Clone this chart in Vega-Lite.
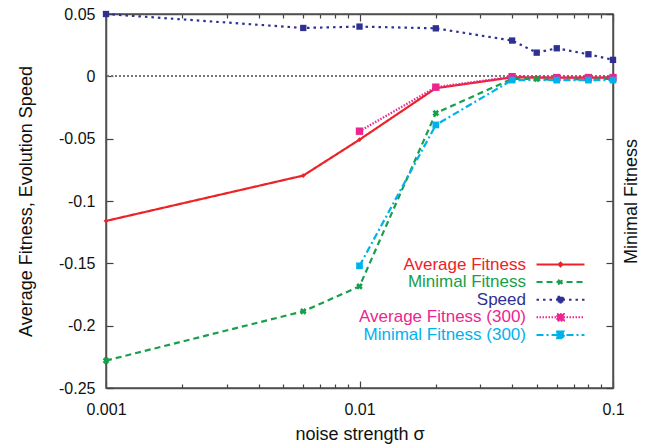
{
  "$schema": "https://vega.github.io/schema/vega-lite/v6.json",
  "autosize": "none",
  "width": 507,
  "height": 374,
  "padding": {"left": 106, "top": 14, "right": 34, "bottom": 60},
  "data": {"values": [
    {"s": "Average Fitness", "x": 0.001, "y": -0.116},
    {"s": "Average Fitness", "x": 0.006, "y": -0.0796},
    {"s": "Average Fitness", "x": 0.01, "y": -0.0508},
    {"s": "Average Fitness", "x": 0.02, "y": -0.0095},
    {"s": "Average Fitness", "x": 0.04, "y": -0.0008},
    {"s": "Average Fitness", "x": 0.05, "y": -0.001},
    {"s": "Average Fitness", "x": 0.06, "y": -0.001},
    {"s": "Average Fitness", "x": 0.08, "y": -0.001},
    {"s": "Average Fitness", "x": 0.1, "y": -0.001},
    {"s": "Minimal Fitness", "x": 0.001, "y": -0.228},
    {"s": "Minimal Fitness", "x": 0.006, "y": -0.1885},
    {"s": "Minimal Fitness", "x": 0.01, "y": -0.1685},
    {"s": "Minimal Fitness", "x": 0.02, "y": -0.0295},
    {"s": "Minimal Fitness", "x": 0.04, "y": -0.002},
    {"s": "Minimal Fitness", "x": 0.05, "y": -0.002},
    {"s": "Minimal Fitness", "x": 0.06, "y": -0.003},
    {"s": "Minimal Fitness", "x": 0.08, "y": -0.002},
    {"s": "Minimal Fitness", "x": 0.1, "y": -0.002},
    {"s": "Speed", "x": 0.001, "y": 0.05},
    {"s": "Speed", "x": 0.006, "y": 0.0388},
    {"s": "Speed", "x": 0.01, "y": 0.0399},
    {"s": "Speed", "x": 0.02, "y": 0.0385},
    {"s": "Speed", "x": 0.04, "y": 0.0287},
    {"s": "Speed", "x": 0.05, "y": 0.019},
    {"s": "Speed", "x": 0.06, "y": 0.0225},
    {"s": "Speed", "x": 0.08, "y": 0.0177},
    {"s": "Speed", "x": 0.1, "y": 0.0132},
    {"s": "Average Fitness (300)", "x": 0.01, "y": -0.044},
    {"s": "Average Fitness (300)", "x": 0.02, "y": -0.0087},
    {"s": "Average Fitness (300)", "x": 0.04, "y": -0.0003},
    {"s": "Average Fitness (300)", "x": 0.06, "y": -0.001},
    {"s": "Average Fitness (300)", "x": 0.08, "y": -0.001},
    {"s": "Average Fitness (300)", "x": 0.1, "y": -0.001},
    {"s": "Minimal Fitness (300)", "x": 0.01, "y": -0.152},
    {"s": "Minimal Fitness (300)", "x": 0.02, "y": -0.039},
    {"s": "Minimal Fitness (300)", "x": 0.04, "y": -0.003},
    {"s": "Minimal Fitness (300)", "x": 0.06, "y": -0.003},
    {"s": "Minimal Fitness (300)", "x": 0.08, "y": -0.003},
    {"s": "Minimal Fitness (300)", "x": 0.1, "y": -0.003}
  ]},
  "layer": [
    {
      "mark": {"type": "rule", "color": "#777777", "strokeWidth": 1, "strokeDash": [1.5, 2.5]},
      "encoding": {"y": {"datum": 0, "type": "quantitative", "axis": null, "scale": {"domain": [-0.25, 0.05], "nice": false, "zero": false}}}
    },
    {
      "mark": {"type": "line", "strokeWidth": 2.2},
      "encoding": {
        "x": {"field": "x", "type": "quantitative", "scale": {"type": "log", "domain": [0.001, 0.1], "nice": false},
          "axis": {"orient": "bottom", "title": "noise strength σ", "values": [0.001,0.002,0.003,0.004,0.005,0.006,0.007,0.008,0.009,0.01,0.02,0.03,0.04,0.05,0.06,0.07,0.08,0.09,0.1],
            "labelExpr": "datum.value==0.001?'0.001':datum.value==0.01?'0.01':datum.value==0.1?'0.1':''",
            "tickSize": {"condition": {"test": "datum.value==0.001||datum.value==0.01||datum.value==0.1", "value": -7}, "value": -4},
            "labelPadding": 20, "titlePadding": 5, "labelOverlap": false, "labelFlush": false}},
        "y": {"field": "y", "type": "quantitative", "scale": {"domain": [-0.25, 0.05], "nice": false, "zero": false},
          "axis": {"orient": "left", "title": "Average Fitness, Evolution Speed", "values": [-0.25,-0.2,-0.15,-0.1,-0.05,0,0.05],
            "labelExpr": "toString(datum.value)", "tickSize": -7, "labelPadding": 18, "titlePadding": 23, "labelOverlap": false}},
        "color": {"field": "s", "type": "nominal", "title": null,
          "scale": {"domain": ["Average Fitness", "Minimal Fitness", "Speed", "Average Fitness (300)", "Minimal Fitness (300)"],
                    "range": ["#ec2227", "#17a04a", "#2e3192", "#ec268f", "#00b2ec"]},
          "legend": {"orient": "none", "legendX": 446, "legendY": 242, "padding": 0, "symbolSize": 92, "symbolStrokeWidth": 2,
            "rowPadding": -0.4, "labelAlign": "right", "labelOffset": -43, "labelFontSize": 17, "labelFont": "Liberation Sans",
            "labelLimit": 300,
            "encode": {
              "labels": {"update": {"fill": {"scale": "color", "field": "value"}}},
              "symbols": {"update": {
                "shape": {"signal": "datum.value=='Average Fitness' ? 'M-5,0H5M-0.4,0L0,-0.4L0.4,0L0,0.4Z' : datum.value=='Minimal Fitness' ? 'M-5,0H5M-0.5,-0.5L0.5,0.5M-0.5,0.5L0.5,-0.5' : datum.value=='Speed' ? 'M-5,0H5M-0.6,-0.6H0.6V0.6H-0.6Z' : 'M-5,0H5M-0.7,-0.7H0.7V0.7H-0.7Z'"},
                "fill": {"scale": "color", "field": "value"}, "stroke": {"scale": "color", "field": "value"}, "strokeWidth": {"value": 2}, "opacity": {"value": 1}}}
            }}},
        "strokeDash": {"field": "s", "type": "nominal", "title": null,
          "scale": {"domain": ["Average Fitness", "Minimal Fitness", "Speed", "Average Fitness (300)", "Minimal Fitness (300)"],
                    "range": [[1, 0], [6, 4], [2.5, 4], [1.5, 1.5], [7, 3, 2, 3]]}}
      }
    },
    {
      "transform": [{"filter": "datum.s == 'Average Fitness'"}],
      "mark": {"type": "point", "filled": true, "shape": "diamond", "size": 22, "color": "#ec2227", "opacity": 1},
      "encoding": {"x": {"field": "x", "type": "quantitative", "axis": null}, "y": {"field": "y", "type": "quantitative", "axis": null}}
    },
    {
      "transform": [{"filter": "datum.s == 'Minimal Fitness'"}],
      "mark": {"type": "point", "filled": true, "shape": "cross", "angle": 45, "size": 45, "color": "#17a04a", "opacity": 1},
      "encoding": {"x": {"field": "x", "type": "quantitative", "axis": null}, "y": {"field": "y", "type": "quantitative", "axis": null}}
    },
    {
      "transform": [{"filter": "datum.s == 'Speed'"}],
      "mark": {"type": "point", "filled": true, "shape": "square", "size": 40, "color": "#2e3192", "opacity": 1},
      "encoding": {"x": {"field": "x", "type": "quantitative", "axis": null}, "y": {"field": "y", "type": "quantitative", "axis": null}}
    },
    {
      "transform": [{"filter": "datum.s == 'Average Fitness (300)'"}],
      "mark": {"type": "point", "filled": true, "shape": "square", "size": 55, "color": "#ec268f", "opacity": 1},
      "encoding": {"x": {"field": "x", "type": "quantitative", "axis": null}, "y": {"field": "y", "type": "quantitative", "axis": null}}
    },
    {
      "transform": [{"filter": "datum.s == 'Minimal Fitness (300)'"}],
      "mark": {"type": "point", "filled": true, "shape": "square", "size": 45, "color": "#00b2ec", "opacity": 1},
      "encoding": {"x": {"field": "x", "type": "quantitative", "axis": null}, "y": {"field": "y", "type": "quantitative", "axis": null}}
    },
    {
      "mark": {"type": "point", "opacity": 0},
      "encoding": {
        "x": {"field": "x", "type": "quantitative",
          "axis": {"orient": "top", "title": null, "values": [0.001,0.002,0.003,0.004,0.005,0.006,0.007,0.008,0.009,0.01,0.02,0.03,0.04,0.05,0.06,0.07,0.08,0.09,0.1],
            "labels": false,
            "tickSize": {"condition": {"test": "datum.value==0.001||datum.value==0.01||datum.value==0.1", "value": -7}, "value": -4}}},
        "y": {"field": "y", "type": "quantitative",
          "axis": {"orient": "right", "title": "Minimal Fitness", "titleAngle": 270, "values": [-0.25,-0.2,-0.15,-0.1,-0.05,0,0.05],
            "labels": false, "tickSize": -7, "titlePadding": 27}}
      }
    }
  ],
  "resolve": {"axis": {"x": "independent", "y": "independent"}},
  "config": {
    "font": "Liberation Sans",
    "view": {"stroke": "#505050", "strokeWidth": 1.5},
    "axis": {"grid": false, "domainColor": "#505050", "tickColor": "#404040", "domainWidth": 1.5, "tickWidth": 1.2,
      "labelFontSize": 16, "titleFontSize": 18, "titleFontWeight": "normal", "labelColor": "#111111", "titleColor": "#111111",
      "labelFont": "Liberation Sans", "titleFont": "Liberation Sans"}
  }
}
